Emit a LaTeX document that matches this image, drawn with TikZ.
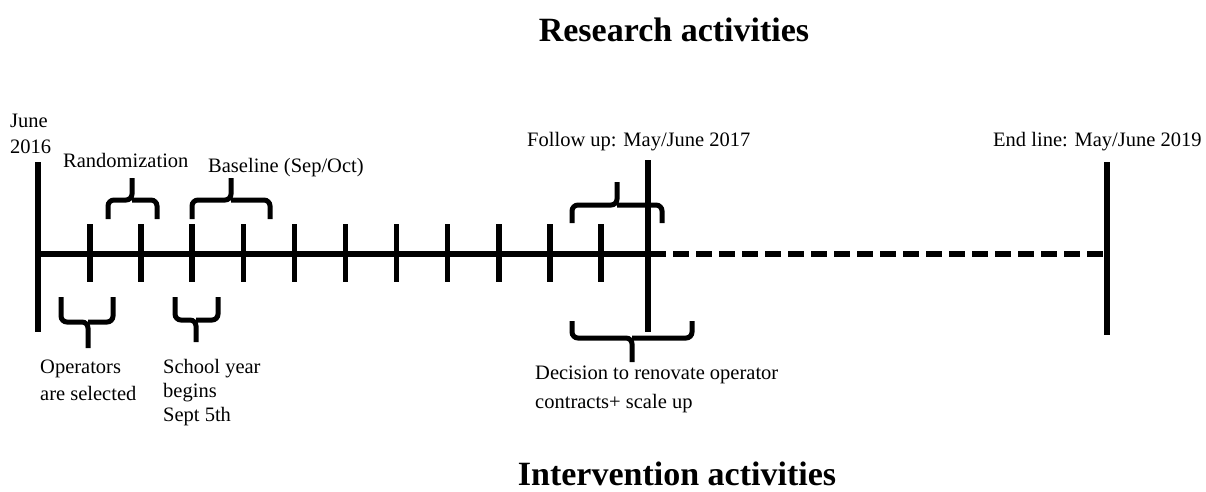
\documentclass[tikz,border=0pt]{standalone}
\usepackage{fontspec}
\setmainfont{Liberation Serif}
\begin{document}
\begin{tikzpicture}[x=1pt,y=-1pt,
  axisline/.style={line width=6pt},
  tickline/.style={line width=5.5pt},
  bracepath/.style={line width=5pt,rounded corners=6pt},
  lbl/.style={inner sep=0pt,anchor=base west,align=left,font=\fontsize{20.5}{24.5}\selectfont},
  ttl/.style={inner sep=0pt,anchor=base,font=\fontsize{34}{40}\selectfont\bfseries}]
\useasboundingbox (0,0) rectangle (1206,491);
% titles
\node[ttl] (research) at (674,41) {Research activities};
\node[ttl] (intervention) at (677,485) {Intervention activities};
% axis
\coordinate (a0) at (35,254);
\coordinate (a1) at (650,254);
\coordinate (a2) at (1104,254);
\draw[axisline] (a0) -- (a1);
\draw[axisline,dash pattern=on 16pt off 7pt] (a1) -- (a2);
% big verticals
\draw[axisline] (38,162) -- (38,332);
\draw[axisline] (648,160) -- (648,332);
\draw[axisline] (1107,162) -- (1107,335);
% ticks
\foreach \i in {0,...,10}{
  \draw[tickline] ({90+51.1*\i},224) -- ({90+51.1*\i},282);
}
% braces (up)
\draw[bracepath] (108,219) -- (108,200) -- (132,200) -- (132,178);
\draw[bracepath] (157,219) -- (157,200) -- (132,200);
\draw[bracepath] (192,219) -- (192,200) -- (231,200) -- (231,178);
\draw[bracepath] (270,219) -- (270,200) -- (231,200);
\draw[bracepath] (572,223) -- (572,205) -- (617,205) -- (617,182);
\draw[bracepath] (662,223) -- (662,205) -- (617,205);
% braces (down)
\draw[bracepath] (61,297) -- (61,322) -- (88,322) -- (88,348);
\draw[bracepath] (113,297) -- (113,322) -- (88,322);
\draw[bracepath] (175,297) -- (175,320) -- (196,320) -- (196,342);
\draw[bracepath] (218,297) -- (218,320) -- (196,320);
\draw[bracepath] (572,321) -- (572,338) -- (632,338) -- (632,362);
\draw[bracepath] (692,321) -- (692,338) -- (632,338);
% labels (multi-line nodes: base = last line)
\node[lbl,font=\fontsize{20.5}{26}\selectfont] (june) at (10,153) {June\\2016};
\node[lbl] (rand) at (63,167) {Randomization};
\node[lbl] (base) at (208,172) {Baseline (Sep/Oct)};
\node[lbl] (follow) at (527,146) {Follow up: May/June 2017};
\node[lbl] (endline) at (993,146) {End line: May/June 2019};
\node[lbl,font=\fontsize{20.5}{27}\selectfont] (oper) at (40,400) {Operators\\are selected};
\node[lbl,font=\fontsize{20.5}{24}\selectfont] (school) at (163,421) {School year\\begins\\Sept 5th};
\node[lbl,font=\fontsize{20.5}{29}\selectfont] (decision) at (535,408) {Decision to renovate operator\\contracts+ scale up};
\end{tikzpicture}
\end{document}
